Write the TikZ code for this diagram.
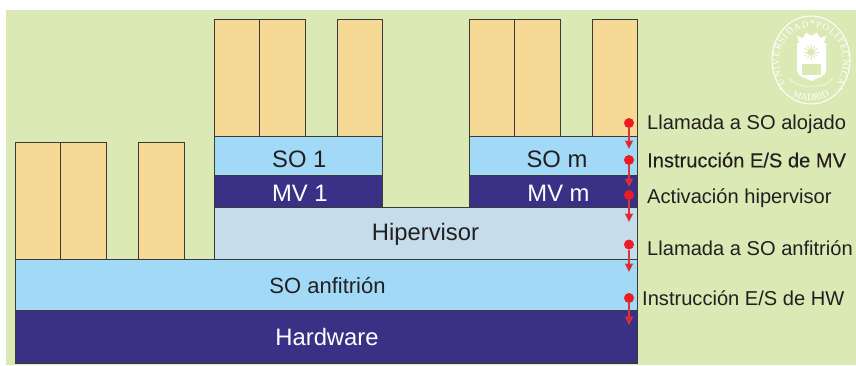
\documentclass[tikz,border=0pt]{standalone}
\usepackage{fontspec}
\setmainfont{Liberation Sans}
\newfontfamily\sealfont{Liberation Serif}
\usetikzlibrary{decorations.text,arrows.meta}
\definecolor{bgc}{HTML}{DBE9B5}
\definecolor{appc}{HTML}{F6D994}
\definecolor{soc}{HTML}{A2D9F7}
\definecolor{mvc}{HTML}{3A3086}
\definecolor{hipc}{HTML}{C5DDEB}
\definecolor{redc}{HTML}{ED1C24}
\definecolor{linec}{HTML}{D8363F}
\definecolor{inkc}{HTML}{231F20}
\definecolor{edgec}{HTML}{3A3A3A}
\tikzset{
  x=1pt,y=-1pt,
  blk/.style={draw=edgec,line width=1pt,inner sep=0pt,outer sep=0pt,font=\fontsize{23.8}{26}\selectfont,text=inkc,anchor=center},
  app/.style={blk,fill=appc},
  so/.style={blk,fill=soc},
  mv/.style={blk,fill=mvc,text=white},
  hip/.style={blk,fill=hipc},
  drop/.style={text height=#1,text depth=0pt},
  dotn/.style={circle,fill=redc,inner sep=0pt,minimum size=10pt,outer sep=0pt},
  lab/.style={anchor=west,inner sep=0pt,font=\fontsize{20.1}{24}\selectfont,text=inkc},
  flow/.style={draw=linec,line width=1.1pt,-{Triangle[length=8.5pt,width=8pt,fill=redc]}},
}
\newcommand{\blkbox}[7]{%
  \pgfmathsetmacro{\bw}{#4-#2}\pgfmathsetmacro{\bh}{#5-#3}%
  \pgfmathsetmacro{\bx}{(#4+#2)/2}\pgfmathsetmacro{\by}{(#5+#3)/2}%
  \node[#6,minimum width=\bw pt,minimum height=\bh pt] (#1) at (\bx,\by) {#7};}
\begin{document}
\begin{tikzpicture}
\useasboundingbox (0,0) rectangle (856,365);
\fill[bgc] (6,10) rectangle (856,365);
% seal
\begin{scope}[white]
  \draw[line width=1pt] (811,60) ellipse [x radius=39,y radius=44];
  \path[postaction={decorate,decoration={text along path,text align={fit to path},
     text={|\sealfont\fontsize{9.5}{10}\selectfont\color{white}|UNIVERSIDAD*POLITECNICA}}}]
     (785,84) .. controls (781,76) and (779,68) .. (779,60) .. controls (779,42) and (793,27) .. (811,27)
     .. controls (829,27) and (843,42) .. (843,60) .. controls (843,68) and (841,76) .. (837,84);
  \path[postaction={decorate,decoration={text along path,text align={center},
     text={|\sealfont\fontsize{9.5}{10}\selectfont\color{white}|MADRID}}}]
     (784,89) .. controls (797,104.5) and (825,104.5) .. (838,89);
  \fill (781,88.5) circle (1.3);
  \fill (841,88.5) circle (1.3);
  \fill (797,43) -- (826,43) -- (826,71) .. controls (826,77) and (816,78) .. (811.5,81) .. controls (807,78) and (797,77) .. (797,71) -- cycle;
  \fill (799,43) -- (797,36) -- (803,38) -- (806,32.5) -- (811.5,36) -- (817,32.5) -- (820,38) -- (826,36) -- (824,43) -- cycle;
  \draw[line width=.5pt] (789,78) .. controls (795,85) and (803,87) .. (811,86) .. controls (819,87) and (827,85) .. (833,78);
  \fill[bgc] (811,52) circle (3.5);
  \foreach \a in {0,30,...,330} \draw[bgc,line width=.7pt] (811,52) -- ++(\a:7.5);
  \fill[bgc] (802,63.5) -- (821,63.5) -- (821,75) -- (802,75) -- cycle;
\end{scope}
% blocks
\blkbox{a1}{15}{142}{60.7}{259}{app}{}
\blkbox{a2}{60.7}{142}{106.3}{259}{app}{}
\blkbox{a3}{138.5}{142}{184}{259}{app}{}
\blkbox{b1}{214}{19}{259.6}{136}{app}{}
\blkbox{b2}{259.6}{19}{305.5}{136}{app}{}
\blkbox{b3}{337}{19}{382.7}{136}{app}{}
\blkbox{c1}{469}{19}{514.7}{136}{app}{}
\blkbox{c2}{514.7}{19}{560.5}{136}{app}{}
\blkbox{c3}{592}{19}{637}{136}{app}{}
\blkbox{so1}{214}{136}{382.7}{175}{so,drop=24pt}{\hspace{2pt}SO 1}
\blkbox{mv1}{214}{175}{382.7}{207}{mv,drop=21pt}{\hspace{3pt}MV 1}
\blkbox{som}{469}{136}{637}{175}{so,drop=24pt}{\hspace{8pt}SO m}
\blkbox{mvm}{469}{175}{637}{207}{mv,drop=21pt}{\hspace{11pt}MV m}
\blkbox{hv}{214}{207}{637}{259}{hip,drop=14pt}{Hipervisor}
\blkbox{af}{15}{259}{637}{310}{so,drop=18pt}{\hspace{3pt}\fontsize{22}{24}\selectfont SO anfitrión}
\blkbox{hw}{15}{310}{637}{363}{mv}{\hspace{2pt}Hardware}
% flow
\node[dotn] (d1) at (629,123) {};
\node[dotn] (d2) at (629,160) {};
\node[dotn] (d3) at (629,195) {};
\node[dotn] (d4) at (629,244.5) {};
\node[dotn] (d5) at (629,298) {};
\coordinate (t1) at (629,149);
\coordinate (t2) at (629,187);
\coordinate (t3) at (629,222);
\coordinate (t4) at (629,272);
\coordinate (t5) at (629,325);
\foreach \i in {1,...,5} \draw[flow] (d\i) -- (t\i);
\node[lab] (l1) at (647,124.5) {Llamada a SO alojado};
\node[lab] (l2) at (647,160) {\addfontfeature{FakeBold=0.15}Instrucción E/S de MV};
\node[lab] (l3) at (647,198.5) {Activación hipervisor};
\node[lab] (l4) at (647,248) {Llamada a SO anfitrión};
\node[lab] (l5) at (642,298) {Instrucción E/S de HW};
\end{tikzpicture}
\end{document}
